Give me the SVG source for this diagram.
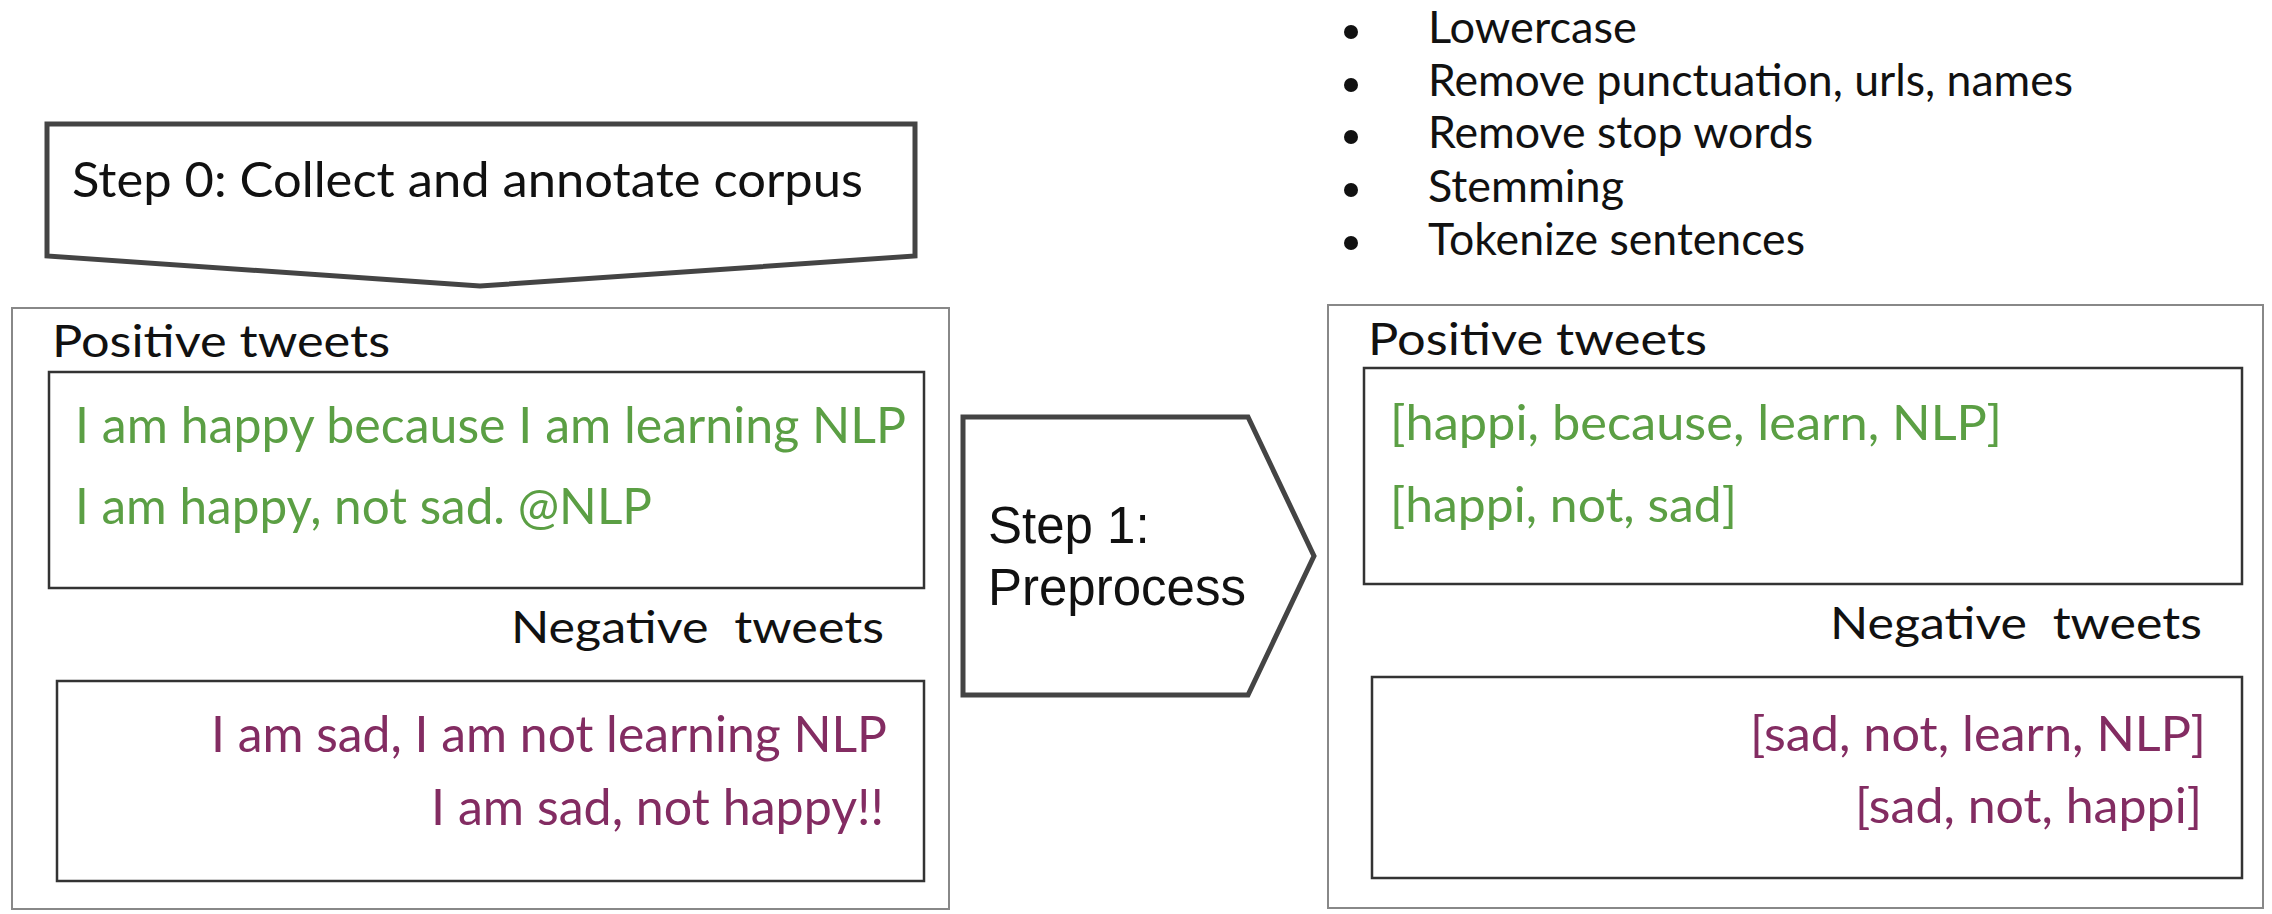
<svg xmlns="http://www.w3.org/2000/svg" width="2272" height="914" viewBox="0 0 2272 914">
<style>
text{font-family:Lato,"Open Sans","Liberation Sans",sans-serif;fill:#111;}
.lbl{font-size:44px;}
.pos{font-size:50px;fill:#5b9f44;}
.neg{font-size:50px;fill:#832c62;}
.pos2{font-size:49px;fill:#5b9f44;}
.neg2{font-size:49px;fill:#832c62;}
.bul{font-size:44px;}
.step{fill:#fff;stroke:#444;stroke-width:5;stroke-linejoin:miter;}
.outer{fill:none;stroke:#888;stroke-width:2;}
.inner{fill:none;stroke:#333;stroke-width:2.5;}
.s1{font-family:"Liberation Sans",Arial,sans-serif;font-size:51px;}
.dot{fill:#111;}
</style>
<rect width="2272" height="914" fill="#fff"/>
<g id="bullets">
<circle class="dot" cx="1351" cy="32" r="7"/>
<circle class="dot" cx="1351" cy="85" r="7"/>
<circle class="dot" cx="1351" cy="137" r="7"/>
<circle class="dot" cx="1351" cy="190" r="7"/>
<circle class="dot" cx="1351" cy="243" r="7"/>
<text class="bul" x="1428" y="43" textLength="209" lengthAdjust="spacingAndGlyphs">Lowercase</text>
<text class="bul" x="1428" y="96" textLength="645" lengthAdjust="spacingAndGlyphs">Remove punctuation, urls, names</text>
<text class="bul" x="1428" y="148" textLength="385" lengthAdjust="spacingAndGlyphs">Remove stop words</text>
<text class="bul" x="1428" y="202" textLength="196" lengthAdjust="spacingAndGlyphs">Stemming</text>
<text class="bul" x="1428" y="255" textLength="377" lengthAdjust="spacingAndGlyphs">Tokenize sentences</text>
</g>
<g id="step0">
<polygon class="step" points="47,124 915,124 915,256 480,286 47,256"/>
<text style="font-size:49px" x="72" y="197" textLength="791" lengthAdjust="spacingAndGlyphs">Step 0: Collect and annotate corpus</text>
</g>
<g id="corpus">
<rect class="outer" x="12" y="308" width="937" height="601"/>
<text class="lbl" x="52" y="357" textLength="338" lengthAdjust="spacingAndGlyphs">Positive tweets</text>
<rect class="inner" x="49" y="372" width="875" height="216"/>
<text class="pos" x="75" y="443" textLength="831" lengthAdjust="spacingAndGlyphs">I am happy because I am learning NLP</text>
<text class="pos" x="75" y="524" textLength="577" lengthAdjust="spacingAndGlyphs">I am happy, not sad. @NLP</text>
<text class="lbl" x="511" y="643" textLength="373" lengthAdjust="spacingAndGlyphs" xml:space="preserve">Negative  tweets</text>
<rect class="inner" x="57" y="681" width="867" height="200"/>
<text class="neg" x="211" y="752" textLength="676" lengthAdjust="spacingAndGlyphs">I am sad, I am not learning NLP</text>
<text class="neg" x="431" y="825" textLength="453" lengthAdjust="spacingAndGlyphs">I am sad, not happy!!</text>
</g>
<g id="step1">
<polygon class="step" points="963,417 1248,417 1314,556 1248,695 963,695"/>
<text class="s1" x="988" y="543">Step 1:</text>
<text class="s1" x="988" y="605">Preprocess</text>
</g>
<g id="processed">
<rect class="outer" x="1328" y="305" width="935" height="603"/>
<text class="lbl" x="1368" y="355" textLength="339" lengthAdjust="spacingAndGlyphs">Positive tweets</text>
<rect class="inner" x="1364" y="368" width="878" height="216"/>
<text class="pos2" x="1390" y="440" textLength="612" lengthAdjust="spacingAndGlyphs">[happi, because, learn, NLP]</text>
<text class="pos2" x="1390" y="522" textLength="347" lengthAdjust="spacingAndGlyphs">[happi, not, sad]</text>
<text class="lbl" x="1830" y="639" textLength="372" lengthAdjust="spacingAndGlyphs" xml:space="preserve">Negative  tweets</text>
<rect class="inner" x="1372" y="677" width="870" height="201"/>
<text class="neg2" x="1750" y="751" textLength="456" lengthAdjust="spacingAndGlyphs">[sad, not, learn, NLP]</text>
<text class="neg2" x="1855" y="823" textLength="347" lengthAdjust="spacingAndGlyphs">[sad, not, happi]</text>
</g>
<g id="connectors"></g>
</svg>
